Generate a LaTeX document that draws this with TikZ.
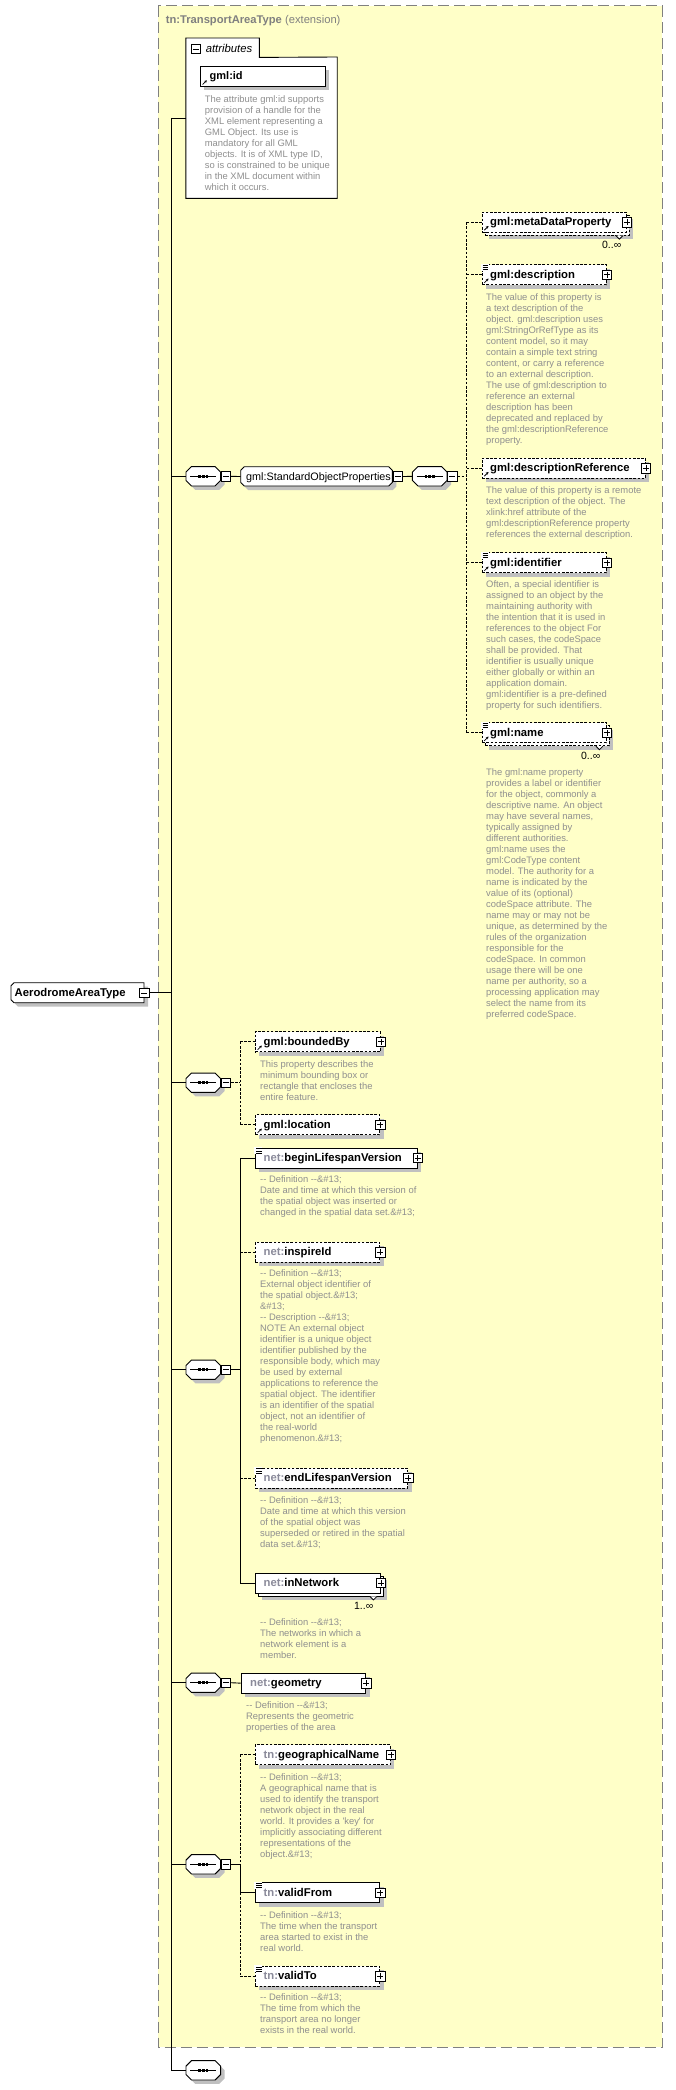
\documentclass[tikz,border=0pt]{standalone}
\usepackage{fontspec}
\setmainfont{Liberation Sans}[Ligatures=TeXOff]
\usetikzlibrary{shadows,arrows.meta}
\definecolor{yel}{HTML}{FFFFC8}
\definecolor{shg}{HTML}{C0C0C0}
\definecolor{dgr}{HTML}{8F8F8F}
\definecolor{pfxc}{HTML}{8A8A9A}
\definecolor{ttl}{HTML}{808080}
\definecolor{bdr}{HTML}{808080}
\newcommand\pfx[1]{{\color{pfxc}#1}}
\tikzset{
 ln/.style={line width=0.9pt},
 ebox/.style={draw, fill=white, line width=0.9pt, inner sep=0pt, minimum height=20pt, anchor=north west},
 optb/.style={dash pattern=on 2.6pt off 1.6pt},
 shd/.style={drop shadow={shadow xshift=4pt, shadow yshift=-4pt, fill=shg, opacity=1}},
 lbl/.style={anchor=base west, inner sep=0pt, font=\fontsize{11.3pt}{13pt}\selectfont\bfseries},
 desc/.style={anchor=north west, align=left, inner sep=0pt, text=dgr, font=\fontsize{9.4pt}{11pt}\selectfont},
 mult/.style={anchor=base east, inner sep=0pt, font=\fontsize{10.5pt}{12pt}\selectfont},
 pmbox/.style={draw, fill=white, line width=0.7pt, minimum size=9.5pt, inner sep=0pt},
 plusb/.style={pmbox, path picture={\draw[line width=0.7pt] ([xshift=1.8pt]path picture bounding box.west) -- ([xshift=-1.8pt]path picture bounding box.east) ([yshift=1.8pt]path picture bounding box.south) -- ([yshift=-1.8pt]path picture bounding box.north);}},
 minusb/.style={pmbox, path picture={\draw[line width=0.7pt] ([xshift=1.8pt]path picture bounding box.west) -- ([xshift=-1.8pt]path picture bounding box.east);}},
 seqn/.style={minimum width=34.7pt, minimum height=19.3pt, inner sep=0pt},
 conn/.style={line width=0.9pt},
 dconn/.style={line width=0.9pt, dash pattern=on 2.6pt off 1.6pt},
 notch/.style={line width=0.8pt, fill=white},
}
\newcommand\refic[1]{\draw[line width=0.8pt,-{Stealth[length=2.6pt,width=2.8pt]}] ([shift={(2.6pt,2.4pt)}]#1.south west) -- ++(4.2pt,4.2pt);}
\newcommand\docic[1]{\fill[white] ([shift={(-0.6pt,0.6pt)}]#1.north west) rectangle ++(8pt,-7pt);
  \foreach \dy in {1.3,3.4,5.5}{\draw[line width=0.7pt] ([shift={(1pt,-\dy pt)}]#1.north west) -- ++(5.6pt,0pt);}}
\newcommand\multnotch[1]{\draw[notch] ([xshift=-14pt]#1.south east) -- ++(3.5pt,-3.5pt) -- ++(3.5pt,3.5pt);}
\newcommand\seqoct[3]{%
  \fill[shg] (#2+4,#3+4) ++(-11.85pt,9.65pt) -- ++(23.7pt,0pt) -- ++(5.5pt,-5.5pt) -- ++(0pt,-8.3pt) -- ++(-5.5pt,-5.5pt) -- ++(-23.7pt,0pt) -- ++(-5.5pt,5.5pt) -- ++(0pt,8.3pt) -- cycle;
  \draw[fill=white, ln] (#2,#3) ++(-11.85pt,9.65pt) -- ++(23.7pt,0pt) -- ++(5.5pt,-5.5pt) -- ++(0pt,-8.3pt) -- ++(-5.5pt,-5.5pt) -- ++(-23.7pt,0pt) -- ++(-5.5pt,5.5pt) -- ++(0pt,8.3pt) -- cycle;
  \node[seqn] (#1) at (#2,#3) {};
  \draw[line width=0.9pt] (#2-13,#3) -- (#2+13,#3);
  \foreach \dx in {-3.7,0,3.7}{\fill (#2+\dx-1.3,#3-1.4) rectangle (#2+\dx+1.3,#3+1.4);}
}
\begin{document}
\begin{tikzpicture}[x=1pt,y=-1pt]
\useasboundingbox (0,0) rectangle (676,2090);
% extension box
\draw[fill=yel, draw=bdr, line width=1pt, dash pattern=on 11pt off 5pt] (158.3,5.7) rectangle (662,2047.3);
\node[anchor=base west, inner sep=0pt, text=ttl, font=\fontsize{11.2pt}{13pt}\selectfont] (title) at (165.6,23.5) {\textbf{tn:TransportAreaType} (extension)};

% attributes
\node[fill=white, inner sep=0pt, minimum width=151pt, minimum height=141pt, anchor=north west] (attrbox) at (185.8,57) {};
\node[fill=white, inner sep=0pt, minimum width=73.2pt, minimum height=19pt, anchor=north west] (attrtab) at (185.8,38) {};
\draw[ln] (attrbox.south west) -- (attrtab.north west) -- (attrtab.north east) -- (attrtab.south east) -- (attrbox.north east) -- (attrbox.south east) -- cycle;
\node[minusb, minimum size=9pt] (attrM) at (196.1,49.3) {};
\node[anchor=base west, inner sep=0pt, font=\fontsize{11.3pt}{13pt}\selectfont\itshape] (attrT) at (205.6,52.6) {attributes};
\node[ebox, shd, minimum width=125pt] (gmlid) at (200,66) {};
\node[lbl, font=\fontsize{11pt}{13pt}\selectfont\bfseries] (gmlidT) at (209.5,79.7) {gml:id};
\refic{gmlid}
\node[desc] (gmlidD) at (204.7,95.5) {The attribute gml:id supports\\provision of a handle for the\\XML element representing a\\GML Object. Its use is\\mandatory for all GML\\objects. It is of XML type ID,\\so is constrained to be unique\\in the XML document within\\which it occurs.};

% trunk
\coordinate (trunk) at (171.5,118);

% root
\fill[shg] (18,986.7) -- (148,986.7) -- (148,1006.7) -- (18,1006.7) -- (15,1003.7) -- (15,989.7) -- cycle;
\draw[fill=white, ln] (14,982.7) -- (144,982.7) -- (144,1002.7) -- (14,1002.7) -- (11,999.7) -- (11,985.7) -- cycle;
\node[inner sep=0pt, minimum width=133pt, minimum height=20pt, anchor=north west] (root) at (11,982.7) {};
\node[lbl] (rootT) at (14.5,996.4) {AerodromeAreaType};
\node[minusb] (rootM) at (root.east) {};

% sequence 1 and group
\seqoct{s1}{203.3}{476.3}
\node[minusb, anchor=west] (s1m) at (s1.east) {};
\fill[shg] (248.2,470.7) -- (392.8,470.7) -- (396.3,474.2) -- (396.3,486.5) -- (392.8,490) -- (248.2,490) -- (244.7,486.5) -- (244.7,474.2) -- cycle;
\draw[fill=white, ln] (244.2,466.7) -- (388.8,466.7) -- (392.3,470.2) -- (392.3,482.5) -- (388.8,486) -- (244.2,486) -- (240.7,482.5) -- (240.7,470.2) -- cycle;
\node[inner sep=0pt, minimum width=151.6pt, minimum height=19.3pt, anchor=north west] (sop) at (240.7,466.7) {};
\node[anchor=base west, inner sep=0pt, font=\fontsize{10.8pt}{13pt}\selectfont] (sopT) at (246,480) {gml:StandardObjectProperties};
\node[minusb, anchor=west] (sopM) at (sop.east) {};
\seqoct{s1i}{429.7}{476.3}
\node[minusb, anchor=west] (s1im) at (s1i.east) {};
\coordinate (v1) at (466.7,221.7);

% children of StandardObjectProperties
\node[ebox, optb, shd, minimum width=144.3pt] (metaB) at (484.7,214.7) {};
\multnotch{metaB}
\node[ebox, optb, minimum width=144.3pt] (meta) at (481.7,211.7) {};
\node[lbl] (metaT) at (490,225.4) {gml:metaDataProperty};
\refic{meta}
\node[plusb] (metaP) at (meta.east) {};
\node[mult] (metaM) at (621.5,248.7) {0..∞};

\node[ebox, optb, shd, minimum width=124.3pt] (gdesc) at (481.7,264.3) {};
\node[lbl] (gdescT) at (490,278) {gml:description};
\docic{gdesc}\refic{gdesc}
\node[plusb] (gdescP) at (gdesc.east) {};
\node[desc] (gdescD) at (486,293.2) {The value of this property is\\a text description of the\\object. gml:description uses\\gml:StringOrRefType as its\\content model, so it may\\contain a simple text string\\content, or carry a reference\\to an external description.\\The use of gml:description to\\reference an external\\description has been\\deprecated and replaced by\\the gml:descriptionReference\\property.};

\node[ebox, optb, shd, minimum width=163.3pt] (dref) at (481.7,457.7) {};
\node[lbl] (drefT) at (490,471.4) {gml:descriptionReference};
\refic{dref}
\node[plusb] (drefP) at (dref.east) {};
\node[desc] (drefD) at (486,486.5) {The value of this property is a remote\\text description of the object. The\\xlink:href attribute of the\\gml:descriptionReference property\\references the external description.};

\node[ebox, optb, shd, minimum width=124.3pt] (ident) at (481.7,552.3) {};
\node[lbl] (identT) at (490,566) {gml:identifier};
\docic{ident}\refic{ident}
\node[plusb] (identP) at (ident.east) {};
\node[desc] (identD) at (486,580.2) {Often, a special identifier is\\assigned to an object by the\\maintaining authority with\\the intention that it is used in\\references to the object For\\such cases, the codeSpace\\shall be provided. That\\identifier is usually unique\\either globally or within an\\application domain.\\gml:identifier is a pre-defined\\property for such identifiers.};

\node[ebox, optb, shd, minimum width=124.3pt] (nameB) at (484.7,725.3) {};
\multnotch{nameB}
\node[ebox, optb, minimum width=124.3pt] (name) at (481.7,722.3) {};
\node[lbl] (nameT) at (490,736) {gml:name};
\docic{name}\refic{name}
\node[plusb] (nameP) at (name.east) {};
\node[mult] (nameM) at (600.5,759.7) {0..∞};
\node[desc] (nameD) at (486,768.2) {The gml:name property\\provides a label or identifier\\for the object, commonly a\\descriptive name.  An object\\may have several names,\\typically assigned by\\different authorities.\\gml:name uses the\\gml:CodeType content\\model.  The authority for a\\name is indicated by the\\value of its (optional)\\codeSpace attribute.  The\\name may or may not be\\unique, as determined by the\\rules of the organization\\responsible for the\\codeSpace.  In common\\usage there will be one\\name per authority, so a\\processing application may\\select the name from its\\preferred codeSpace.};

% sequence 2
\seqoct{s2}{203.3}{1082.7}
\node[minusb, anchor=west] (s2m) at (s2.east) {};
\coordinate (v2) at (240,1082.7);
\node[ebox, optb, shd, minimum width=125pt] (bnd) at (255,1031.3) {};
\node[lbl] (bndT) at (263.5,1045) {gml:boundedBy};
\refic{bnd}
\node[plusb] (bndP) at (bnd.east) {};
\node[desc] (bndD) at (260,1060.2) {This property describes the\\minimum bounding box or\\rectangle that encloses the\\entire feature.};
\node[ebox, optb, shd, minimum width=124.3pt] (loc) at (255,1114.3) {};
\node[lbl] (locT) at (263.5,1128) {gml:location};
\refic{loc}
\node[plusb] (locP) at (loc.east) {};

% sequence 3
\seqoct{s3}{203.3}{1369.7}
\node[minusb, anchor=west] (s3m) at (s3.east) {};
\coordinate (v3) at (240,1369.7);
\node[ebox, shd, minimum width=161.7pt] (blv) at (255,1147.5) {};
\node[lbl] (blvT) at (263.5,1161.2) {\pfx{net:}beginLifespanVersion};
\docic{blv}
\node[plusb] (blvP) at (blv.east) {};
\node[desc] (blvD) at (260,1175.8) {-{}- Definition -{}-\&\#13;\\Date and time at which this version of\\the spatial object was inserted or\\changed in the spatial data set.\&\#13;};
\node[ebox, optb, shd, minimum width=124.3pt] (insp) at (255,1241.7) {};
\node[lbl] (inspT) at (263.5,1255.4) {\pfx{net:}inspireId};
\node[plusb] (inspP) at (insp.east) {};
\node[desc] (inspD) at (260,1269.8) {-{}- Definition -{}-\&\#13;\\External object identifier of\\the spatial object.\&\#13;\\\&\#13;\\-{}- Description -{}-\&\#13;\\NOTE An external object\\identifier is a unique object\\identifier published by the\\responsible body, which may\\be used by external\\applications to reference the\\spatial object. The identifier\\is an identifier of the spatial\\object, not an identifier of\\the real-world\\phenomenon.\&\#13;};
\node[ebox, optb, shd, minimum width=152.3pt] (elv) at (255,1467.5) {};
\node[lbl] (elvT) at (263.5,1481.2) {\pfx{net:}endLifespanVersion};
\docic{elv}
\node[plusb] (elvP) at (elv.east) {};
\node[desc] (elvD) at (260,1496.2) {-{}- Definition -{}-\&\#13;\\Date and time at which this version\\of the spatial object was\\superseded or retired in the spatial\\data set.\&\#13;};
\node[ebox, shd, minimum width=125pt] (innetB) at (258,1575.5) {};
\multnotch{innetB}
\node[ebox, minimum width=125pt] (innet) at (255,1572.5) {};
\node[lbl] (innetT) at (263.5,1586.2) {\pfx{net:}inNetwork};
\node[plusb] (innetP) at (innet.east) {};
\node[mult] (innetM) at (373.5,1609.7) {1..∞};
\node[desc] (innetD) at (260,1618.2) {-{}- Definition -{}-\&\#13;\\The networks in which a\\network element is a\\member.};

% sequence 4
\seqoct{s4}{203.3}{1682.7}
\node[minusb, anchor=west] (s4m) at (s4.east) {};
\node[ebox, shd, minimum width=124.6pt] (geom) at (240.7,1672.7) {};
\node[lbl] (geomT) at (250,1686.4) {\pfx{net:}geometry};
\node[plusb] (geomP) at (geom.east) {};
\node[desc] (geomD) at (246,1701.2) {-{}- Definition -{}-\&\#13;\\Represents the geometric\\properties of the area};

% sequence 5
\seqoct{s5}{203.3}{1864.3}
\node[minusb, anchor=west] (s5m) at (s5.east) {};
\coordinate (v5) at (240,1864.3);
\node[ebox, optb, shd, minimum width=135pt] (geo) at (255,1744.3) {};
\node[lbl] (geoT) at (263.5,1758) {\pfx{tn:}geographicalName};
\node[plusb] (geoP) at (geo.east) {};
\node[desc] (geoD) at (260,1773.2) {-{}- Definition -{}-\&\#13;\\A geographical name that is\\used to identify the transport\\network object in the real\\world. It provides a 'key' for\\implicitly associating different\\representations of the\\object.\&\#13;};
\node[ebox, shd, minimum width=124.3pt] (vf) at (255,1882.3) {};
\node[lbl] (vfT) at (263.5,1896) {\pfx{tn:}validFrom};
\docic{vf}
\node[plusb] (vfP) at (vf.east) {};
\node[desc] (vfD) at (260,1911.2) {-{}- Definition -{}-\&\#13;\\The time when the transport\\area started to exist in the\\real world.};
\node[ebox, optb, shd, minimum width=124.3pt] (vt) at (255,1965.7) {};
\node[lbl] (vtT) at (263.5,1979.4) {\pfx{tn:}validTo};
\docic{vt}
\node[plusb] (vtP) at (vt.east) {};
\node[desc] (vtD) at (260,1993.8) {-{}- Definition -{}-\&\#13;\\The time from which the\\transport area no longer\\exists in the real world.};

% sequence 6
\seqoct{s6}{203.3}{2070.3}

% connectors
\draw[conn] (trunk) -- (trunk |- s6.west) -- (s6.west);
\draw[conn] (trunk) -- (trunk -| attrbox.west);
\draw[conn] (rootM.east) -- (rootM.east -| trunk);
\draw[conn] (s1.west -| trunk) -- (s1.west);
\draw[conn] (s1m.east) -- (sop.west);
\draw[conn] (sopM.east) -- (s1i.west);
\draw[dconn] (s1im.east) -- (s1im.east -| v1);
\draw[dconn] (meta.west -| v1) -- (name.west -| v1);
\foreach \n in {meta,gdesc,dref,ident,name}{\draw[dconn] (\n.west -| v1) -- (\n.west);}
\draw[conn] (s2.west -| trunk) -- (s2.west);
\draw[dconn] (s2m.east) -- (v2);
\draw[dconn] (bnd.west -| v2) -- (loc.west -| v2);
\draw[dconn] (bnd.west -| v2) -- (bnd.west);
\draw[dconn] (loc.west -| v2) -- (loc.west);
\draw[conn] (s3.west -| trunk) -- (s3.west);
\draw[conn] (s3m.east) -- (v3);
\draw[conn] (blv.west -| v3) -- (innet.west -| v3);
\draw[conn] (blv.west -| v3) -- (blv.west);
\draw[dconn] (insp.west -| v3) -- (insp.west);
\draw[dconn] (elv.west -| v3) -- (elv.west);
\draw[conn] (innet.west -| v3) -- (innet.west);
\draw[conn] (s4.west -| trunk) -- (s4.west);
\draw[conn] (s4m.east) -- (geom.west);
\draw[conn] (s5.west -| trunk) -- (s5.west);
\draw[conn] (s5m.east) -- (v5);
\draw[dconn] (geo.west -| v5) -- (v5);
\draw[conn] (v5) -- (vf.west -| v5);
\draw[dconn] (vf.west -| v5) -- (vt.west -| v5);
\draw[dconn] (geo.west -| v5) -- (geo.west);
\draw[conn] (vf.west -| v5) -- (vf.west);
\draw[dconn] (vt.west -| v5) -- (vt.west);
\end{tikzpicture}
\end{document}
